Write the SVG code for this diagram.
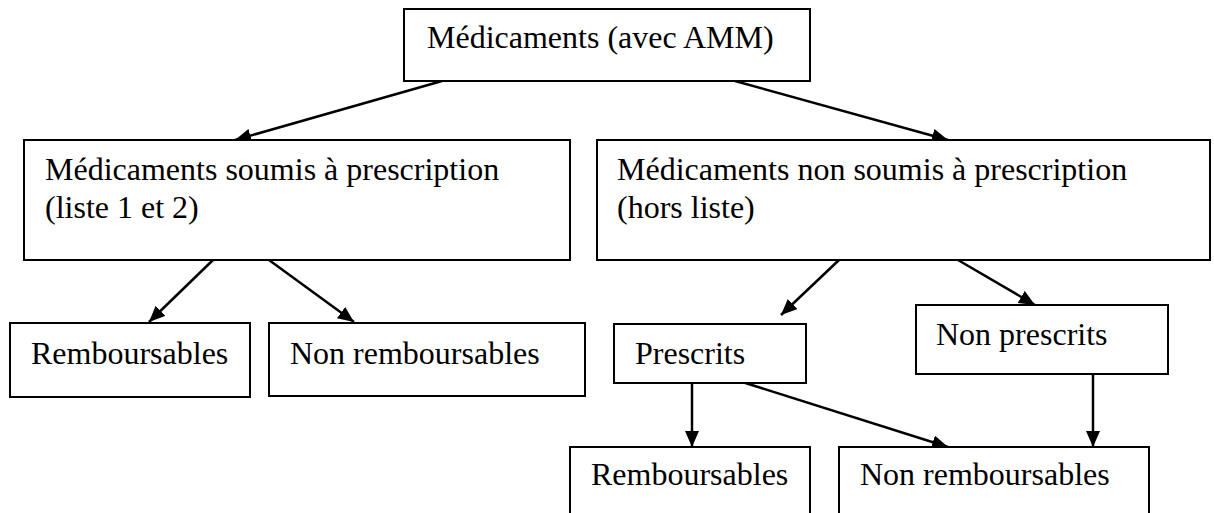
<svg xmlns="http://www.w3.org/2000/svg" width="1214" height="513" viewBox="0 0 1214 513">
<defs>
<style>
.box{fill:#fff;stroke:#000;stroke-width:2}
.t{font-family:"Liberation Serif","Times New Roman",serif;font-size:32px;fill:#000}
.c{stroke:#000;stroke-width:2.5;fill:none}
</style>
<marker id="ah" markerUnits="userSpaceOnUse" markerWidth="18" markerHeight="16" refX="16" refY="7" orient="auto">
<path d="M0,0 L16,7 L0,14 z" fill="#000"/>
</marker>
</defs>
<rect width="1214" height="513" fill="#fff"/>
<g id="connectors">
<line class="c" x1="442" y1="81" x2="235" y2="140" marker-end="url(#ah)"/>
<line class="c" x1="735" y1="81" x2="948" y2="140" marker-end="url(#ah)"/>
<line class="c" x1="213" y1="260" x2="149" y2="322" marker-end="url(#ah)"/>
<line class="c" x1="269" y1="260" x2="354" y2="322" marker-end="url(#ah)"/>
<line class="c" x1="839" y1="260" x2="781" y2="315" marker-end="url(#ah)"/>
<line class="c" x1="958" y1="260" x2="1035" y2="305" marker-end="url(#ah)"/>
<line class="c" x1="692" y1="383" x2="692" y2="447" marker-end="url(#ah)"/>
<line class="c" x1="736" y1="380" x2="948" y2="447" marker-end="url(#ah)"/>
<line class="c" x1="1093" y1="374" x2="1093" y2="447" marker-end="url(#ah)"/>
</g>
<g id="n-root">
<rect class="box" x="404" y="9" width="406" height="72"/>
<text class="t" x="427" y="48">Médicaments (avec AMM)</text>
</g>
<g id="n-soumis">
<rect class="box" x="24" y="140" width="546" height="120"/>
<text class="t" x="45" y="180">Médicaments soumis à prescription</text>
<text class="t" x="45" y="218">(liste 1 et 2)</text>
</g>
<g id="n-nonsoumis">
<rect class="box" x="597" y="140" width="613" height="120"/>
<text class="t" x="617" y="180">Médicaments non soumis à prescription</text>
<text class="t" x="617" y="218">(hors liste)</text>
</g>
<g id="n-remb1">
<rect class="box" x="10" y="323" width="240" height="74"/>
<text class="t" x="31" y="364">Remboursables</text>
</g>
<g id="n-nonremb1">
<rect class="box" x="269" y="323" width="316" height="73"/>
<text class="t" x="290" y="364">Non remboursables</text>
</g>
<g id="n-prescrits">
<rect class="box" x="614" y="324" width="192" height="59"/>
<text class="t" x="635" y="364">Prescrits</text>
</g>
<g id="n-nonprescrits">
<rect class="box" x="916" y="305" width="252" height="69"/>
<text class="t" x="936" y="345">Non prescrits</text>
</g>
<g id="n-remb2">
<path class="box" d="M570,514 L570,447 L810,447 L810,514"/>
<text class="t" x="591" y="485">Remboursables</text>
</g>
<g id="n-nonremb2">
<path class="box" d="M839,514 L839,447 L1149,447 L1149,514"/>
<text class="t" x="860" y="485">Non remboursables</text>
</g>
</svg>
